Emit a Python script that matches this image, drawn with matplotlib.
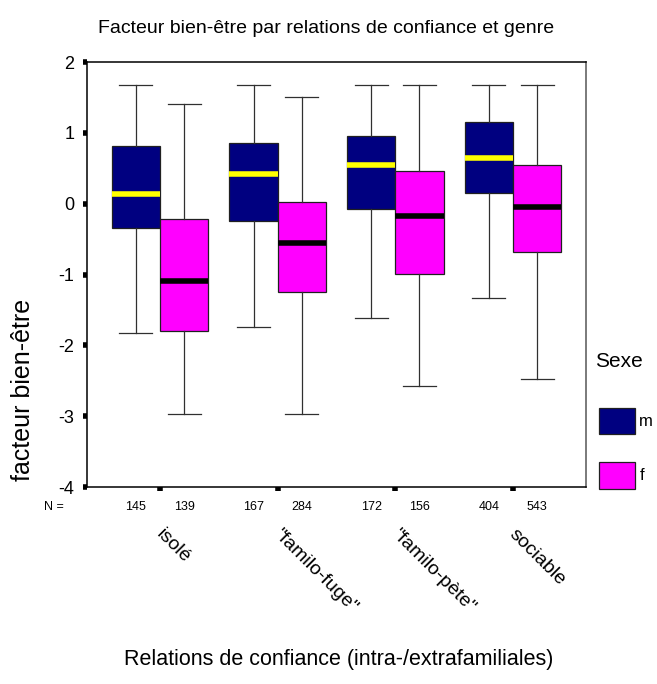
import matplotlib.pyplot as plt
from matplotlib.patches import Rectangle
from matplotlib.transforms import blended_transform_factory

plt.rcParams['font.family'] = ['Liberation Sans', 'DejaVu Sans']

categories = ['isolé', '"familo-fuge"', '"familo-pète"', 'sociable']
sexes = ['m', 'f']
colors = {'m': '#000080', 'f': '#ff00ff'}
median_colors = {'m': '#ffff00', 'f': '#000000'}

# lower whisker, Q1, median, Q3, upper whisker
m_lo = [-1.82, -1.74, -1.62, -1.33]
m_q1 = [-0.34, -0.24, -0.08, 0.15]
m_med = [0.13, 0.42, 0.55, 0.65]
m_q3 = [0.81, 0.85, 0.96, 1.15]
m_hi = [1.67, 1.67, 1.67, 1.67]

f_lo = [-2.97, -2.97, -2.58, -2.48]
f_q1 = [-1.80, -1.25, -0.99, -0.68]
f_med = [-1.09, -0.56, -0.18, -0.05]
f_q3 = [-0.21, 0.02, 0.46, 0.54]
f_hi = [1.41, 1.51, 1.67, 1.67]

m_n = [145, 167, 172, 404]
f_n = [139, 284, 156, 543]

data = {
    'm': (m_lo, m_q1, m_med, m_q3, m_hi, m_n),
    'f': (f_lo, f_q1, f_med, f_q3, f_hi, f_n),
}

fig = plt.figure(figsize=(6.57, 6.84), dpi=100)
ax = fig.add_axes([0.1324, 0.288, 0.7595, 0.6213])

offsets = {'m': -0.205, 'f': 0.205}
width = 0.41
for s in sexes:
    lo, q1, med, q3, hi, n = data[s]
    stats = []
    for i in range(len(categories)):
        stats.append({'whislo': lo[i], 'q1': q1[i], 'med': med[i],
                      'q3': q3[i], 'whishi': hi[i], 'fliers': []})
    pos = [i + offsets[s] for i in range(len(categories))]
    ax.bxp(stats, positions=pos, widths=width, patch_artist=True,
           showfliers=False, capwidths=0.28,
           boxprops=dict(facecolor=colors[s], edgecolor='#202020', linewidth=0.9),
           medianprops=dict(color=median_colors[s], linewidth=4),
           whiskerprops=dict(color='#303030', linewidth=0.9),
           capprops=dict(color='#303030', linewidth=0.9))

ax.set_xlim(-0.62, 3.62)
ax.set_ylim(-4, 2)
ax.set_yticks([-4, -3, -2, -1, 0, 1, 2])
ax.set_yticklabels(['-4', '-3', '-2', '-1', '0', '1', '2'], fontsize=13)
ax.set_xticks(range(len(categories)))
ax.set_xticklabels([])
ax.tick_params(axis='both', direction='out', length=3, width=4, color='black', pad=6)
ax.spines['right'].set_color('#707070')
ax.spines['right'].set_linewidth(1.3)
for sp in ['top', 'left', 'bottom']:
    ax.spines[sp].set_linewidth(1.1)

trans = blended_transform_factory(ax.transData, ax.transAxes)
ax.text(-0.9, -0.048, 'N =', transform=trans, fontsize=9, ha='center', va='center')
for s in sexes:
    n = data[s][5]
    for i in range(len(categories)):
        ax.text(i + offsets[s], -0.048, str(n[i]), transform=trans,
                fontsize=9, ha='center', va='center')

for i, c in enumerate(categories):
    ax.text(i + 0.04, -0.092, c, transform=trans, fontsize=14, rotation=-45,
            rotation_mode='anchor', ha='left', va='top')

fig.text(0.497, 0.958, 'Facteur bien-être par relations de confiance et genre',
         fontsize=14, ha='center', va='center')
fig.text(0.035, 0.43, 'facteur bien-être', fontsize=18, rotation=90,
         ha='center', va='center')
fig.text(0.515, 0.036, 'Relations de confiance (intra-/extrafamiliales)',
         fontsize=15.5, ha='center', va='center')

# légende
fig.text(0.905, 0.471, 'Sexe', fontsize=15, ha='left', va='center')
leg_y = {'m': 0.365, 'f': 0.285}
for s in sexes:
    fig.add_artist(Rectangle((0.911, leg_y[s]), 0.056, 0.039,
                             transform=fig.transFigure, facecolor=colors[s],
                             edgecolor='#202020', linewidth=0.9))
    fig.text(0.973, leg_y[s] + 0.0195, s, fontsize=12, ha='left', va='center')

fig.savefig('out.png', dpi=100)
